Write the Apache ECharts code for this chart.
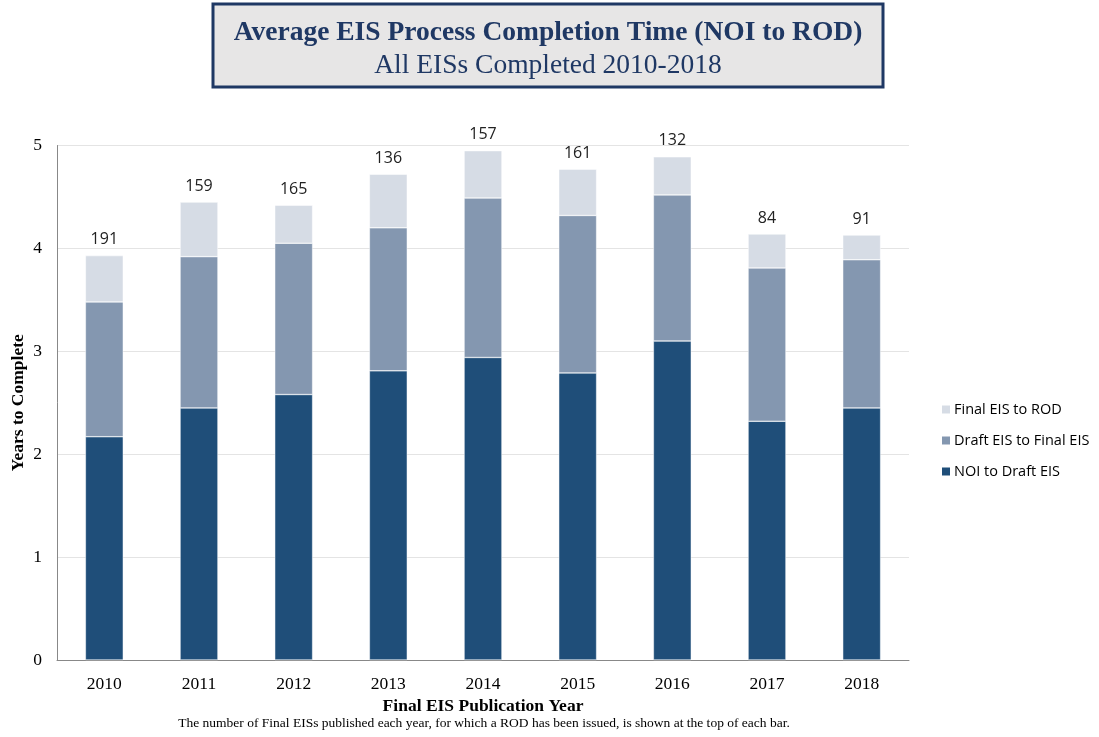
<!DOCTYPE html>
<html><head><meta charset="utf-8">
<script src="https://cdn.jsdelivr.net/npm/echarts@6/dist/echarts.min.js"></script>
<style>html,body{margin:0;padding:0;background:#fff}#c{width:1099px;height:737px}</style>
</head><body><div id="c"></div>
<script>
const years = ['2010','2011','2012','2013','2014','2015','2016','2017','2018'];
const noiToDraft = [2.17, 2.45, 2.58, 2.81, 2.94, 2.79, 3.10, 2.32, 2.45];
const draftToFinal = [1.31, 1.47, 1.47, 1.39, 1.55, 1.53, 1.42, 1.49, 1.44];
const finalToRod = [0.45, 0.53, 0.37, 0.52, 0.46, 0.45, 0.37, 0.33, 0.24];
const eisCounts = [191, 159, 165, 136, 157, 161, 132, 84, 91];
const yTicks = [0, 1, 2, 3, 4, 5];

const serif = '"Liberation Serif", "DejaVu Serif", serif';
const sans = '"Open Sans", "Noto Sans", sans-serif';
const chart = echarts.init(document.getElementById('c'));
chart.setOption({
  animation: false,
  graphic: [
    {type: 'rect', shape: {x: 213, y: 4, width: 670, height: 83},
     style: {fill: '#E7E6E6', stroke: '#1F3864', lineWidth: 3}},
    {type: 'text', x: 548, y: 33,
     style: {text: 'Average EIS Process Completion Time (NOI to ROD)', font: 'bold 27.5px ' + serif, fill: '#1F3864', textAlign: 'center', textVerticalAlign: 'middle'}},
    {type: 'text', x: 548, y: 66,
     style: {text: 'All EISs Completed 2010-2018', font: '27.5px ' + serif, fill: '#1F3864', textAlign: 'center', textVerticalAlign: 'middle'}},
    {type: 'text', x: 483, y: 706,
     style: {text: 'Final EIS Publication Year', font: 'bold 17.5px ' + serif, fill: '#000', textAlign: 'center', textVerticalAlign: 'middle'}},
    {type: 'text', x: 484, y: 723,
     style: {text: 'The number of Final EISs published each year, for which a ROD has been issued, is shown at the top of each bar.', font: '13.5px ' + serif, fill: '#000', textAlign: 'center', textVerticalAlign: 'middle'}}
  ],
  legend: {
    orient: 'vertical', left: 935, top: 397, itemGap: 16, itemWidth: 10, itemHeight: 10,
    icon: 'rect',
    data: ['Final EIS to ROD', 'Draft EIS to Final EIS', 'NOI to Draft EIS'],
    textStyle: {fontFamily: sans, fontSize: 14.5, color: '#000', padding: [0,0,0,-2]}
  },
  grid: {left: 57, right: 190, top: 145.5, bottom: 77, outerBoundsMode: 'none', containLabel: false},
  xAxis: {
    type: 'category', data: years,
    axisLine: {lineStyle: {color: '#888', width: 1}},
    axisTick: {show: false},
    axisLabel: {fontFamily: serif, fontSize: 17.5, color: '#000', margin: 15}
  },
  yAxis: {
    type: 'value', min: yTicks[0], max: yTicks[yTicks.length - 1], interval: 1,
    name: 'Years to Complete', nameLocation: 'middle', nameGap: 30, nameRotate: 90, nameMoveOverlap: false,
    nameTextStyle: {fontFamily: serif, fontWeight: 'bold', fontSize: 17.5, color: '#000'},
    axisLine: {show: true, lineStyle: {color: '#888', width: 1}},
    axisTick: {show: false},
    axisLabel: {fontFamily: serif, fontSize: 17.5, color: '#000', margin: 15},
    splitLine: {lineStyle: {color: '#E4E4E4', width: 1}}
  },
  series: [
    {name: 'NOI to Draft EIS', type: 'bar', stack: 't', data: noiToDraft, barWidth: '40%',
     itemStyle: {color: '#1F4E79', borderColor: '#fff', borderWidth: 0.5}},
    {name: 'Draft EIS to Final EIS', type: 'bar', stack: 't', data: draftToFinal,
     itemStyle: {color: '#8497B0', borderColor: '#fff', borderWidth: 0.5}},
    {name: 'Final EIS to ROD', type: 'bar', stack: 't', data: finalToRod,
     itemStyle: {color: '#D6DCE5', borderColor: '#fff', borderWidth: 0.5},
     label: {show: true, position: 'top', distance: 8, fontFamily: sans, fontSize: 16, color: '#222',
             formatter: p => String(eisCounts[p.dataIndex])}}
  ]
});
</script></body></html>
